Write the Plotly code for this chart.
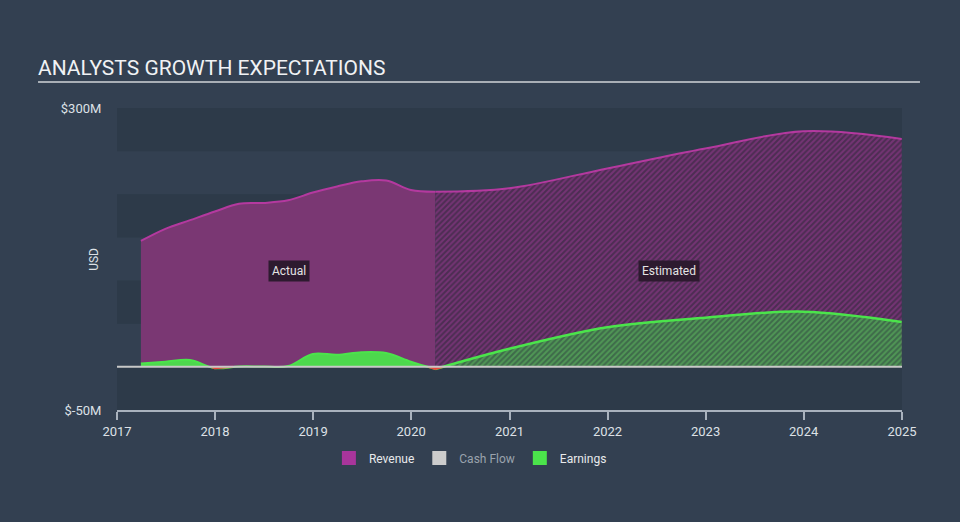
import plotly.graph_objects as go
import pandas as pd

# Actual figures (USD millions)
actual_dates = ["2017-03-31", "2017-06-30", "2017-09-30", "2017-12-31", "2018-03-31",
                "2018-06-30", "2018-09-30", "2018-12-31", "2019-03-31", "2019-06-30",
                "2019-09-30", "2019-12-31", "2020-03-31"]
actual_revenue = [146, 160, 170, 180, 189, 190, 193, 202, 209, 215, 216, 205, 203]
actual_earnings = [4, 6, 8, -1.5, 0.5, 0.5, 1, 15, 14, 17, 16, 6, -2.5]

# Analyst estimates (USD millions)
est_dates = ["2020-03-31", "2020-12-31", "2021-12-31", "2022-12-31", "2023-12-31", "2024-12-31"]
est_revenue = [203, 207, 230, 253, 273, 264]
est_earnings = [-2.5, 21, 46, 57, 64, 52]

y_tickvals = [-50, 300]
y_ticktext = ["$-50M", "$300M"]

REV_LINE = "#b4399f"
REV_FILL = "#7a3773"
EARN_LINE = "#4be44b"
EARN_FILL = "#4dd84d"

fig = go.Figure()

fig.add_trace(go.Scatter(
    x=actual_dates, y=actual_revenue, mode="lines", line=dict(color=REV_LINE, width=2, shape="spline"),
    fill="tozeroy", fillcolor=REV_FILL, showlegend=False, hoverinfo="skip"))
fig.add_trace(go.Scatter(
    x=est_dates, y=est_revenue, mode="lines", line=dict(color=REV_LINE, width=2, shape="spline"),
    fill="tozeroy", fillcolor="rgba(0,0,0,0)",
    fillpattern=dict(shape="/", fgcolor="#9c3b95", bgcolor="#4c2d52", size=4, solidity=0.5),
    showlegend=False, hoverinfo="skip"))
fig.add_trace(go.Scatter(
    x=actual_dates, y=actual_earnings, mode="lines", line=dict(color=EARN_LINE, width=2, shape="spline"),
    fill="tozeroy", fillcolor=EARN_FILL, showlegend=False, hoverinfo="skip"))
fig.add_trace(go.Scatter(
    x=est_dates, y=est_earnings, mode="lines", line=dict(color=EARN_LINE, width=2.5, shape="spline"),
    fill="tozeroy", fillcolor="rgba(0,0,0,0)",
    fillpattern=dict(shape="/", fgcolor="#62c462", bgcolor="#3e6a4a", size=4, solidity=0.5),
    showlegend=False, hoverinfo="skip"))

# negative earnings drawn in red, only between zero crossings
all_dates = pd.to_datetime(actual_dates + est_dates[1:])
all_earn = actual_earnings + est_earnings[1:]
for i, v in enumerate(all_earn):
    if v >= 0:
        continue
    xs, ys = [], []
    if i > 0:
        p, d0 = all_earn[i - 1], all_dates[i - 1]
        xs.append(d0 + (all_dates[i] - d0) * (p / (p - v)))
        ys.append(0)
    xs.append(all_dates[i])
    ys.append(v)
    if i + 1 < len(all_earn):
        n, d1 = all_earn[i + 1], all_dates[i + 1]
        xs.append(all_dates[i] + (d1 - all_dates[i]) * (-v / (n - v)))
        ys.append(0)
    fig.add_trace(go.Scatter(x=xs, y=ys, mode="lines", line=dict(color="#e8453c", width=2),
                             fill="tozeroy", fillcolor="#e8453c", showlegend=False, hoverinfo="skip"))

# legend swatches
for name, col in [("Revenue", "#a8359b"), ("<span style='color:#9aa3ad'>Cash Flow</span>", "#cccccc"),
                  ("Earnings", "#4be44b")]:
    fig.add_trace(go.Scatter(x=[None], y=[None], mode="markers", name=name,
                             marker=dict(symbol="square", size=14, color=col)))

# alternating background bands
shapes = []
for lo, hi in [(250, 300), (150, 200), (50, 100), (-50, 0)]:
    shapes.append(dict(type="rect", xref="paper", yref="y", x0=0, x1=1, y0=lo, y1=hi,
                       fillcolor="#2d3a49", line=dict(width=0), layer="below"))
shapes.append(dict(type="line", xref="paper", yref="y", x0=0, x1=1, y0=0, y1=0,
                   line=dict(color="#c8c8c8", width=2), layer="above"))
shapes.append(dict(type="line", xref="paper", yref="paper", x0=-0.1006, x1=1.0229, y0=1.086, y1=1.086,
                   line=dict(color="#a9afb6", width=2)))

fig.update_layout(
    width=960, height=522,
    margin=dict(l=117, r=58, t=108, b=112, autoexpand=False),
    paper_bgcolor="#334051",
    plot_bgcolor="#334051",
    font=dict(family="Roboto", color="#dde1e6", size=12),
    title=dict(text="ANALYSTS GROWTH EXPECTATIONS", x=38 / 960, xanchor="left",
               y=1 - 68 / 522, yanchor="middle", font=dict(size=21, color="#f0f2f4")),
    shapes=shapes,
    showlegend=True,
    legend=dict(orientation="h", xref="container", yref="container", x=0.49, xanchor="center",
                y=1 - 458 / 522, yanchor="middle", font=dict(size=12, color="#e8eaec"),
                bgcolor="rgba(0,0,0,0)", itemwidth=30, tracegroupgap=0),
    annotations=[
        dict(text="Actual", x="2018-10-04", y=111, xref="x", yref="y", showarrow=False,
             bgcolor="#2d1a2f", font=dict(size=12, color="#e4e4e4"), borderpad=3),
        dict(text="Estimated", x="2022-08-17", y=111, xref="x", yref="y", showarrow=False,
             bgcolor="#2d1a2f", font=dict(size=12, color="#e4e4e4"), borderpad=3),
        dict(text="USD", x=-0.041, y=0.5, xref="paper", yref="paper", showarrow=False,
             textangle=-90, font=dict(size=12, color="#dde1e6")),
    ],
)

fig.update_xaxes(
    range=["2017-01-01", "2025-01-01"], showgrid=False, zeroline=False,
    showline=True, linecolor="#a9b2bd", linewidth=2,
    ticks="outside", ticklen=8, tickcolor="#a9b2bd", tickwidth=1.5,
    dtick="M12", tickformat="%Y", tickfont=dict(size=13, color="#dde1e6"),
)
fig.update_yaxes(
    range=[-50, 300], showgrid=False, zeroline=False, showline=False,
    tickvals=y_tickvals, ticktext=y_ticktext, ticks="outside", ticklen=12,
    tickcolor="rgba(0,0,0,0)", tickfont=dict(size=13, color="#dde1e6"),
)

fig.write_html("out.html", config={"displayModeBar": False},
               post_script="document.body.style.margin='0';")
